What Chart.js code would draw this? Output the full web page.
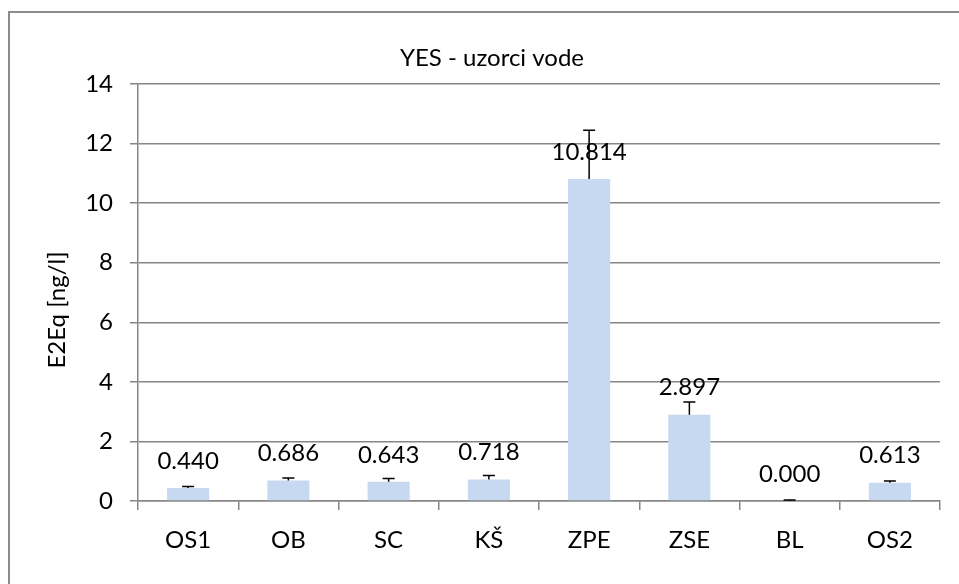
<!DOCTYPE html>
<html>
<head>
<meta charset="utf-8">
<title>YES - uzorci vode</title>
<script src="https://cdn.jsdelivr.net/npm/chart.js@4.4.0/dist/chart.umd.min.js"></script>
<style>
    html, body { margin: 0; padding: 0; background: #fff; }
    #wrap { width: 959px; height: 584px; }
</style>
</head>
<body>
<div id="wrap"><canvas id="chart" width="959" height="584"></canvas></div>
<script>
// Data
const categories = ['OS1', 'OB', 'SC', 'KŠ', 'ZPE', 'ZSE', 'BL', 'OS2'];
const values = [0.440, 0.686, 0.643, 0.718, 10.814, 2.897, 0.000, 0.613];
const errors = [0.05, 0.09, 0.11, 0.14, 1.63, 0.43, 0.03, 0.06];
const yTicks = [0, 2, 4, 6, 8, 10, 12, 14];

const chartTitle = 'YES - uzorci vode';
const yTitle = 'E2Eq [ng/l]';

const FONT = 'Lato';
const GRID = '#868686';

// Frame, title, error bars and value labels
const decorations = {
    id: 'decorations',
    beforeDraw(chart) {
        const c = chart.ctx;
        c.save();
        c.fillStyle = '#fff';
        c.fillRect(0, 0, chart.width, chart.height);
        c.strokeStyle = '#8c8c8c';
        c.lineWidth = 2;
        c.strokeRect(9, 12, chart.width + 20, chart.height + 20);
        c.restore();
    },
    afterDatasetsDraw(chart) {
        const c = chart.ctx;
        const y = chart.scales.y;
        const meta = chart.getDatasetMeta(0);
        c.save();
        // error bars (plus only)
        c.strokeStyle = '#000';
        c.lineWidth = 1.5;
        meta.data.forEach((bar, i) => {
            const top = y.getPixelForValue(values[i]);
            const end = y.getPixelForValue(values[i] + errors[i]);
            c.beginPath();
            c.moveTo(bar.x, top);
            c.lineTo(bar.x, end);
            c.moveTo(bar.x - 6, end);
            c.lineTo(bar.x + 6, end);
            c.stroke();
        });
        // value labels
        c.fillStyle = '#000';
        c.font = '24px ' + FONT;
        c.textAlign = 'center';
        c.textBaseline = 'middle';
        meta.data.forEach((bar, i) => {
            const top = y.getPixelForValue(values[i]);
            c.fillText(values[i].toFixed(3), bar.x, top - 27);
        });
        // chart title
        c.fillText(chartTitle, 492, 58);
        // y axis title
        c.translate(57, 310);
        c.rotate(-Math.PI / 2);
        c.fillText(yTitle, 0, 0);
        c.restore();
    }
};

const ctx = document.getElementById('chart');
new Chart(ctx.getContext('2d'), {
    type: 'bar',
    data: {
        labels: categories,
        datasets: [{
            data: values,
            backgroundColor: '#c6d9f0',
            borderWidth: 0,
            barPercentage: 0.42,
            categoryPercentage: 1
        }]
    },
    options: {
        responsive: false,
        animation: false,
        layout: { padding: { top: 84, right: 19, left: 0, bottom: 0 } },
        plugins: {
            legend: { display: false },
            tooltip: { enabled: false }
        },
        scales: {
            x: {
                afterFit(scale) { scale.height = 83; },
                grid: {
                    offset: true,
                    drawOnChartArea: false,
                    drawTicks: true,
                    tickLength: 9,
                    color: GRID,
                    lineWidth: 1.5
                },
                border: { display: true, color: GRID, width: 1.5 },
                ticks: {
                    color: '#000',
                    padding: 16,
                    font: { family: FONT, size: 24 },
                    maxRotation: 0
                }
            },
            y: {
                min: 0,
                max: 14,
                afterFit(scale) { scale.width = 138; },
                afterBuildTicks(scale) {
                    scale.ticks = yTicks.map(v => ({ value: v }));
                },
                grid: {
                    drawTicks: true,
                    tickLength: 8,
                    color: GRID,
                    lineWidth: 1.5
                },
                border: { display: true, color: GRID, width: 1.5 },
                ticks: {
                    color: '#000',
                    padding: 17,
                    font: { family: FONT, size: 24 }
                }
            }
        }
    },
    plugins: [decorations]
});
</script>
</body>
</html>
